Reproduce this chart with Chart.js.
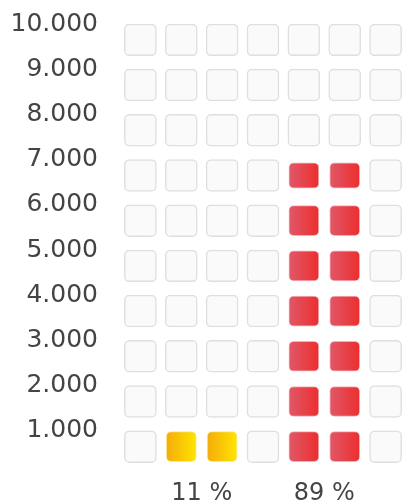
<!DOCTYPE html>
<html>
<head>
<meta charset="utf-8">
<script src="https://cdn.jsdelivr.net/npm/chart.js@4/dist/chart.umd.min.js"></script>
<style>
  html, body { margin: 0; padding: 0; background: #fff; }
  #wrap { width: 405px; height: 502px; }
</style>
</head>
<body>
<div id="wrap"><canvas id="cells"></canvas></div>
<script>
// data
const groupLabels = ['11 %', '89 %'];
const groupValues = [1000, 6840];        // filled height of each group
const groupColumns = [[2, 3], [5, 6]];   // columns (1..7) filled per group
const columnCount = 7;
const yMax = 10000;
const cellStep = 1000;

// looks
const cellHeight = 703;   // in y units, the rest of the step is the gap
const inset = 20;         // coloured cells sit a little inside the grey ones
const fills = [
    ['rgb(244,172,12)', 'rgb(255,228,0)'],   // yellow
    ['rgb(224,88,104)', 'rgb(236,46,46)']    // red
];

function fmt(v) {
    return String(v).replace(/\B(?=(\d{3})+(?!\d))/g, '.');
}

function cellFill(ctx, from, to) {
    const chart = ctx.chart;
    const xs = chart.scales && chart.scales.x;
    if (!xs || !chart.chartArea || !ctx.raw) return to;
    const cx = xs.getPixelForValue(ctx.raw.x);
    const g = chart.ctx.createLinearGradient(cx - 15, 0, cx + 15, 0);
    g.addColorStop(0, from);
    g.addColorStop(1, to);
    return g;
}

const filled = {};
const colorSets = groupValues.map((val, g) => {
    const data = [];
    groupColumns[g].forEach(col => {
        for (let k = 1; (k - 1) * cellStep < val; k++) {
            // last cell shrinks around its centre when only partly reached
            const part = Math.min(1, (val - (k - 1) * cellStep) / cellStep);
            const full = cellHeight - 2 * inset;
            const mid = k * cellStep - cellHeight / 2;
            const h = full * part;
            data.push({x: col, y: [mid - h / 2, mid + h / 2]});
            filled[col + '_' + k] = true;
        }
    });
    return {
        label: groupLabels[g],
        data: data,
        grouped: false,
        order: 1,
        barThickness: 30,
        borderRadius: 5,
        borderSkipped: false,
        borderWidth: 1,
        borderColor: g === 0 ? 'rgba(250,205,50,0.5)' : 'rgba(235,100,115,0.5)',
        backgroundColor: ctx => cellFill(ctx, fills[g][0], fills[g][1])
    };
});

const greyData = [];
for (let col = 1; col <= columnCount; col++) {
    for (let k = 1; k * cellStep <= yMax; k++) {
        if (!filled[col + '_' + k]) {
            greyData.push({x: col, y: [k * cellStep - cellHeight, k * cellStep]});
        }
    }
}

const cells = new Chart('cells', {
    type: 'bar',
    data: {
        datasets: colorSets.concat([{
            label: 'empty',
            data: greyData,
            grouped: false,
            order: 2,
            barThickness: 32,
            borderRadius: 5,
            borderSkipped: false,
            borderWidth: 1.5,
            borderColor: '#dfdfdf',
            backgroundColor: '#fafafa'
        }])
    },
    options: {
        responsive: true,
        maintainAspectRatio: false,
        animation: false,
        layout: { padding: { top: 24, right: 1, left: 0, bottom: 0 } },
        plugins: { legend: { display: false }, tooltip: { enabled: false } },
        scales: {
            x: {
                type: 'linear',
                offset: false,
                min: 0.55,
                max: 7.45,
                grid: { display: false, drawTicks: false },
                border: { display: false },
                afterFit: s => { s.height = 26; s.paddingLeft = 0; s.paddingRight = 0; },
                afterBuildTicks: s => {
                    s.ticks = groupColumns.map(c => ({value: (c[0] + c[1]) / 2}));
                },
                ticks: {
                    padding: 3,
                    autoSkip: false,
                    maxRotation: 0,
                    color: '#444',
                    font: { family: 'DejaVu Sans', size: 24 },
                    callback: (v, i) => groupLabels[i]
                }
            },
            y: {
                min: 0,
                max: yMax,
                grid: { display: false, drawTicks: false },
                border: { display: false },
                afterFit: s => { s.width = 122; s.paddingTop = 0; s.paddingBottom = 0; },
                ticks: {
                    stepSize: cellStep,
                    padding: 24,
                    color: '#444',
                    font: { family: 'DejaVu Sans', size: 25 },
                    callback: v => v === 0 ? '' : fmt(v)
                }
            }
        }
    }
});
</script>
</body>
</html>
